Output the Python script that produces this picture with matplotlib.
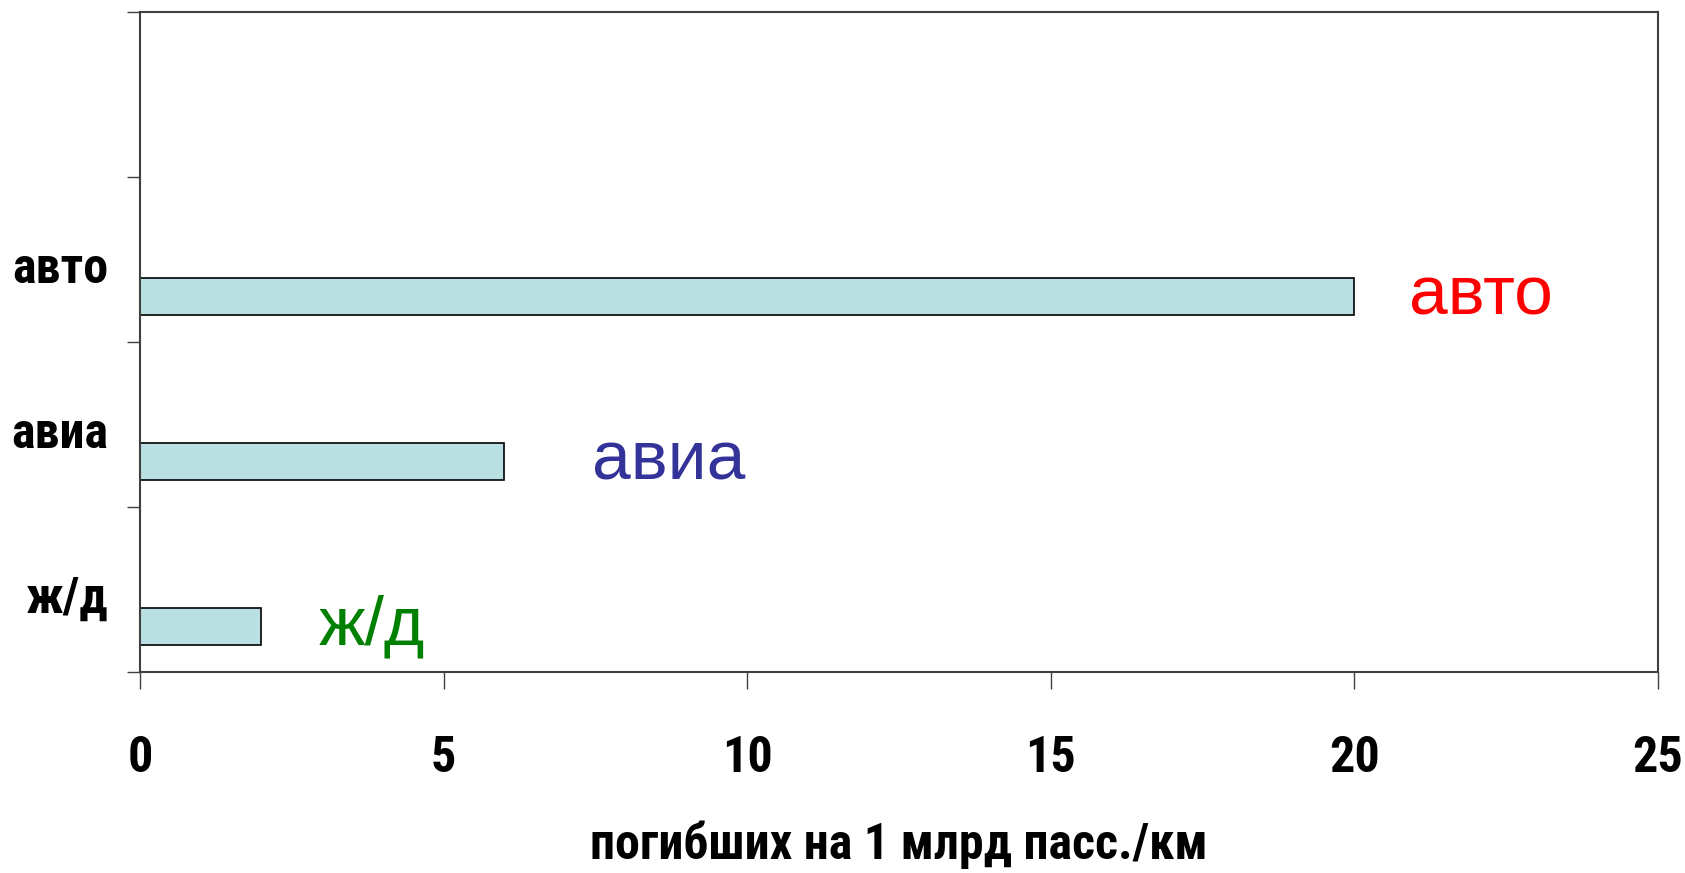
import numpy as np
import matplotlib.pyplot as plt

# categories from top to bottom (top slot is empty in the original)
categories = ['', 'авто', 'авиа', 'ж/д']
values = [0, 20, 6, 2]
note_labels = ['', 'авто', 'авиа', 'ж/д']
note_colors = ['none', '#FF0000', '#333399', '#008000']
note_x = [0, 20.9, 7.45, 2.95]
xticks = [0, 5, 10, 15, 20, 25]

bold_font = ['Roboto Condensed', 'DejaVu Sans']
reg_font = ['Liberation Sans', 'DejaVu Sans']

fig = plt.figure(figsize=(16.85, 8.73), dpi=100)
ax = fig.add_axes([0.0831, 0.2302, 0.9009, 0.7558])

pos = np.arange(len(categories))[::-1]
h = 0.225
ax.barh(pos - h, values, height=h, color='#BBE0E3', edgecolor='black', linewidth=1.2)

for i in range(len(categories)):
    if note_labels[i]:
        ax.text(note_x[i], pos[i] - h, note_labels[i], color=note_colors[i],
                fontsize=50, family=reg_font, va='center', ha='left')

ax.set_xlim(0, 25)
ax.set_ylim(-0.5, len(categories) - 0.5)

ax.set_xticks(xticks)
ax.set_xticklabels([str(t) for t in xticks], fontsize=36, fontweight='bold',
                   family=bold_font, fontstretch='condensed')
ax.tick_params(axis='x', direction='out', length=12, width=1, color='#404040', pad=33)

# category labels sit a little below the slot centre
ax.set_yticks(pos - 0.03)
ax.set_yticklabels(categories, fontsize=36, fontweight='bold', family=bold_font,
                   fontstretch='condensed')
ax.set_yticks(np.arange(-0.5, len(categories)), minor=True)
ax.tick_params(axis='y', which='major', length=0, pad=23)
ax.tick_params(axis='y', which='minor', direction='out', length=9.5, width=1, color='#404040')

for s in ax.spines.values():
    s.set_color('#404040')
    s.set_linewidth(1.5)

ax.set_xlabel('погибших на 1 млрд пасс./км', fontsize=36, fontweight='bold',
              family=bold_font, fontstretch='condensed', labelpad=28)

fig.savefig('out.png', dpi=100)
